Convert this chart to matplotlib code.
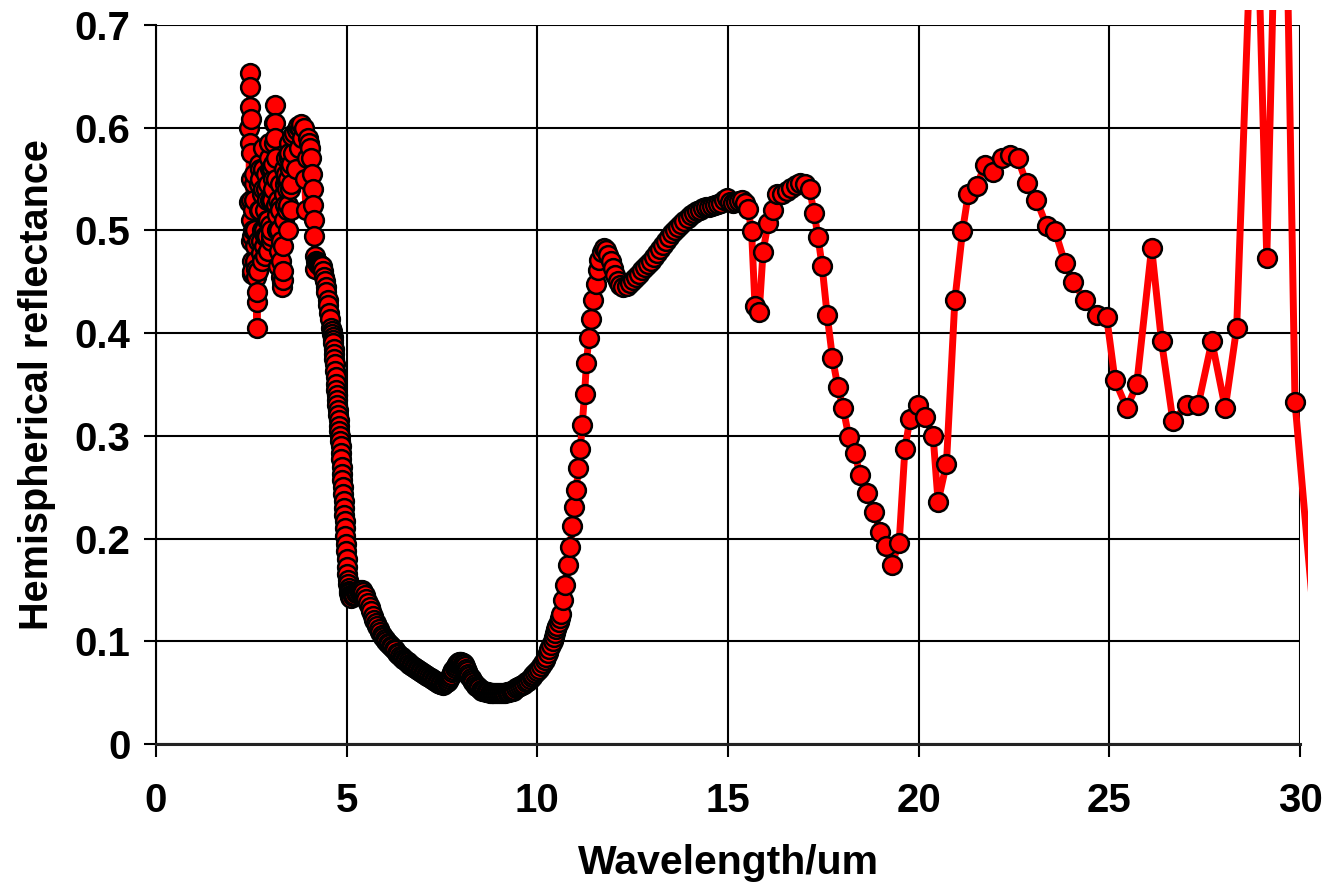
import matplotlib
matplotlib.use('Agg')
import matplotlib.pyplot as plt
from matplotlib.patches import Rectangle

# spectral hemispherical reflectance, wavelength in um
wavelength = [
    2.44, 2.45, 2.46, 2.465, 2.47, 2.475, 2.48, 2.485, 2.49, 2.495,
    2.50, 2.505, 2.51, 2.515, 2.52, 2.53, 2.54, 2.55, 2.56, 2.57,
    2.58, 2.59, 2.60, 2.61, 2.62, 2.63, 2.64, 2.65, 2.66, 2.67,
    2.68, 2.69, 2.70, 2.71, 2.72, 2.73, 2.74, 2.75, 2.76, 2.77,
    2.78, 2.79, 2.80, 2.81, 2.82, 2.83, 2.84, 2.85, 2.86, 2.87,
    2.88, 2.89, 2.90, 2.91, 2.92, 2.93, 2.94, 2.95, 2.96, 2.97,
    2.98, 2.99, 3.00, 3.01, 3.02, 3.03, 3.04, 3.05, 3.06, 3.07,
    3.08, 3.09, 3.10, 3.11, 3.12, 3.13, 3.14, 3.15, 3.16, 3.17,
    3.18, 3.19, 3.20, 3.21, 3.22, 3.23, 3.24, 3.25, 3.26, 3.27,
    3.28, 3.29, 3.30, 3.31, 3.32, 3.33, 3.34, 3.35, 3.36, 3.37,
    3.38, 3.39, 3.40, 3.41, 3.42, 3.43, 3.44, 3.45, 3.46, 3.47,
    3.48, 3.49, 3.50, 3.51, 3.52, 3.53, 3.54, 3.55, 3.57, 3.60,
    3.63, 3.66, 3.69, 3.72, 3.75, 3.78, 3.81, 3.84, 3.87, 3.90,
    3.93, 3.96, 3.99, 4.02, 4.05, 4.07, 4.09, 4.11, 4.13, 4.14,
    4.15, 4.16, 4.18, 4.20, 4.22, 4.24, 4.26, 4.28, 4.30, 4.32,
    4.35, 4.37, 4.40, 4.42, 4.45, 4.47, 4.50, 4.52, 4.55, 4.57,
    4.60, 4.61, 4.62, 4.63, 4.64, 4.65, 4.66, 4.67, 4.68, 4.69,
    4.70, 4.71, 4.72, 4.73, 4.74, 4.75, 4.76, 4.77, 4.78, 4.79,
    4.80, 4.81, 4.82, 4.83, 4.84, 4.85, 4.86, 4.87, 4.88, 4.89,
    4.90, 4.91, 4.92, 4.93, 4.94, 4.95, 4.96, 4.97, 4.98, 4.99,
    5.00, 5.01, 5.02, 5.03, 5.04, 5.05, 5.06, 5.07, 5.08, 5.10,
    5.12, 5.16, 5.20, 5.24, 5.28, 5.32, 5.36, 5.40, 5.44, 5.48,
    5.52, 5.56, 5.60, 5.64, 5.68, 5.72, 5.76, 5.80, 5.84, 5.88,
    5.92, 5.96, 6.00, 6.04, 6.08, 6.12, 6.16, 6.20, 6.24, 6.28,
    6.32, 6.36, 6.40, 6.44, 6.48, 6.52, 6.56, 6.60, 6.64, 6.68,
    6.72, 6.76, 6.80, 6.84, 6.88, 6.92, 6.96, 7.00, 7.04, 7.08,
    7.12, 7.16, 7.20, 7.24, 7.28, 7.32, 7.36, 7.40, 7.44, 7.48,
    7.52, 7.56, 7.59, 7.62, 7.65, 7.68, 7.71, 7.74, 7.77, 7.80,
    7.83, 7.86, 7.89, 7.92, 7.95, 7.98, 8.01, 8.04, 8.07, 8.10,
    8.13, 8.16, 8.19, 8.22, 8.25, 8.28, 8.32, 8.36, 8.40, 8.44,
    8.48, 8.52, 8.56, 8.60, 8.65, 8.70, 8.75, 8.80, 8.85, 8.90,
    8.95, 9.00, 9.05, 9.10, 9.15, 9.20, 9.25, 9.30, 9.35, 9.40,
    9.45, 9.50, 9.55, 9.60, 9.65, 9.70, 9.75, 9.80, 9.85, 9.90,
    9.95, 10.00, 10.05, 10.10, 10.15, 10.20, 10.24, 10.28, 10.32, 10.36,
    10.40, 10.44, 10.47, 10.50, 10.53, 10.56, 10.59, 10.62,
    10.68, 10.73, 10.80, 10.86, 10.92, 10.97, 11.02, 11.08, 11.13, 11.18,
    11.24, 11.29, 11.35, 11.41, 11.47, 11.53, 11.58, 11.63, 11.69, 11.75,
    11.80, 11.86, 11.92, 11.98, 12.04, 12.11, 12.18, 12.26, 12.34, 12.42,
    12.50, 12.58, 12.66, 12.74, 12.82, 12.90, 12.98, 13.06, 13.14, 13.22,
    13.30, 13.38, 13.46, 13.54, 13.62, 13.70, 13.78, 13.86, 13.94, 14.02,
    14.10, 14.18, 14.26, 14.34, 14.42, 14.50, 14.58, 14.66, 14.74, 14.82,
    14.90, 14.98, 15.06, 15.14, 15.22, 15.30, 15.38, 15.46, 15.53, 15.62,
    15.71, 15.82, 15.92, 16.05, 16.18, 16.28, 16.42, 16.55, 16.66, 16.78,
    16.90, 17.02, 17.14, 17.26, 17.36, 17.47, 17.60, 17.74, 17.88, 18.02,
    18.17, 18.32, 18.47, 18.64, 18.84, 18.99, 19.14, 19.29, 19.49, 19.64,
    19.77, 19.99, 20.17, 20.38, 20.51, 20.73, 20.95, 21.15, 21.30, 21.52,
    21.74, 21.96, 22.18, 22.39, 22.60, 22.83, 23.09, 23.36, 23.58, 23.84,
    24.05, 24.36, 24.67, 24.93, 25.15, 25.46, 25.72, 26.11, 26.37, 26.67,
    27.03, 27.33, 27.69, 28.04, 28.34, 28.82, 29.13, 29.52, 29.87, 30.60,
]
reflectance = [
    0.528, 0.600, 0.653, 0.640, 0.620, 0.585, 0.608, 0.550, 0.575, 0.510,
    0.530, 0.490, 0.470, 0.495, 0.458, 0.460, 0.500, 0.520, 0.545, 0.555,
    0.530, 0.500, 0.485, 0.470, 0.462, 0.455, 0.430, 0.405, 0.440, 0.460,
    0.490, 0.520, 0.545, 0.565, 0.560, 0.550, 0.520, 0.490, 0.478, 0.470,
    0.500, 0.535, 0.560, 0.580, 0.540, 0.500, 0.485, 0.475, 0.495, 0.520,
    0.540, 0.555, 0.530, 0.510, 0.495, 0.480, 0.510, 0.545, 0.570, 0.585,
    0.560, 0.530, 0.505, 0.490, 0.495, 0.500, 0.530, 0.560, 0.550, 0.540,
    0.565, 0.585, 0.605, 0.622, 0.605, 0.590, 0.570, 0.550, 0.525, 0.500,
    0.515, 0.530, 0.500, 0.465, 0.480, 0.500, 0.525, 0.545, 0.520, 0.490,
    0.470, 0.455, 0.450, 0.445, 0.452, 0.460, 0.485, 0.510, 0.535, 0.560,
    0.545, 0.525, 0.550, 0.570, 0.555, 0.540, 0.520, 0.500, 0.525, 0.550,
    0.570, 0.585, 0.575, 0.560, 0.540, 0.520, 0.545, 0.565, 0.592, 0.575,
    0.595, 0.560, 0.598, 0.602, 0.580, 0.600, 0.604, 0.590, 0.600, 0.550,
    0.520, 0.570, 0.590, 0.585, 0.580, 0.570, 0.555, 0.540, 0.525, 0.510,
    0.495, 0.475, 0.462, 0.470, 0.469, 0.468, 0.467, 0.466, 0.466, 0.465,
    0.465, 0.460, 0.455, 0.451, 0.445, 0.440, 0.432, 0.427, 0.420, 0.414,
    0.405, 0.402, 0.399, 0.396, 0.393, 0.390, 0.385, 0.380, 0.375, 0.370,
    0.363, 0.357, 0.350, 0.345, 0.340, 0.335, 0.330, 0.325, 0.320, 0.315,
    0.310, 0.305, 0.300, 0.295, 0.290, 0.283, 0.277, 0.270, 0.263, 0.257,
    0.250, 0.243, 0.237, 0.230, 0.223, 0.217, 0.210, 0.202, 0.195, 0.188,
    0.180, 0.172, 0.165, 0.160, 0.156, 0.152, 0.149, 0.147, 0.145, 0.143,
    0.142, 0.144, 0.145, 0.147, 0.148, 0.149, 0.150, 0.150, 0.148, 0.145,
    0.141, 0.137, 0.133, 0.129, 0.125, 0.121, 0.118, 0.115, 0.112, 0.109,
    0.106, 0.104, 0.102, 0.100, 0.098, 0.097, 0.095, 0.094, 0.092, 0.091,
    0.089, 0.088, 0.086, 0.085, 0.083, 0.082, 0.081, 0.080, 0.078, 0.077,
    0.076, 0.075, 0.074, 0.073, 0.072, 0.071, 0.070, 0.069, 0.068, 0.067,
    0.066, 0.065, 0.064, 0.063, 0.062, 0.061, 0.060, 0.059, 0.058, 0.058,
    0.057, 0.058, 0.059, 0.060, 0.061, 0.063, 0.065, 0.067, 0.070, 0.072,
    0.074, 0.076, 0.078, 0.079, 0.080, 0.080, 0.080, 0.079, 0.078, 0.076,
    0.073, 0.071, 0.068, 0.066, 0.064, 0.062, 0.060, 0.058, 0.056, 0.055,
    0.054, 0.053, 0.052, 0.052, 0.051, 0.051, 0.050, 0.050, 0.050, 0.050,
    0.050, 0.050, 0.050, 0.050, 0.050, 0.051, 0.051, 0.052, 0.052, 0.053,
    0.054, 0.055, 0.056, 0.057, 0.058, 0.060, 0.061, 0.063, 0.065, 0.067,
    0.069, 0.071, 0.073, 0.076, 0.079, 0.082, 0.085, 0.089, 0.092, 0.096,
    0.100, 0.104, 0.108, 0.112, 0.115, 0.119, 0.123, 0.127,
    0.140, 0.155, 0.174, 0.192, 0.212, 0.231, 0.247, 0.269, 0.287, 0.311,
    0.341, 0.371, 0.395, 0.414, 0.432, 0.448, 0.461, 0.471, 0.479, 0.483,
    0.481, 0.476, 0.470, 0.463, 0.457, 0.451, 0.447, 0.445, 0.446, 0.449,
    0.452, 0.455, 0.458, 0.461, 0.464, 0.467, 0.470, 0.474, 0.478, 0.482,
    0.486, 0.490, 0.494, 0.497, 0.500, 0.503, 0.506, 0.509, 0.512, 0.515,
    0.517, 0.519, 0.520, 0.522, 0.523, 0.523, 0.524, 0.525, 0.526, 0.527,
    0.530, 0.532, 0.528, 0.527, 0.528, 0.529, 0.530, 0.527, 0.521, 0.499,
    0.426, 0.421, 0.479, 0.507, 0.520, 0.535, 0.535, 0.538, 0.541, 0.544,
    0.546, 0.545, 0.540, 0.517, 0.494, 0.465, 0.418, 0.376, 0.348, 0.327,
    0.299, 0.283, 0.262, 0.244, 0.226, 0.206, 0.193, 0.174, 0.196, 0.287,
    0.316, 0.330, 0.318, 0.300, 0.236, 0.273, 0.432, 0.499, 0.535, 0.543,
    0.564, 0.557, 0.570, 0.573, 0.570, 0.546, 0.530, 0.504, 0.499, 0.468,
    0.450, 0.432, 0.418, 0.416, 0.354, 0.327, 0.350, 0.483, 0.392, 0.314,
    0.330, 0.330, 0.392, 0.327, 0.405, 0.900, 0.473, 1.080, 0.333, 0.020,
]

x_ticks = [0, 5, 10, 15, 20, 25, 30]
y_ticks = [0, 0.1, 0.2, 0.3, 0.4, 0.5, 0.6, 0.7]
y_tick_labels = ['0', '0.1', '0.2', '0.3', '0.4', '0.5', '0.6', '0.7']

plt.rcParams['font.family'] = ['Liberation Sans', 'DejaVu Sans']
plt.rcParams['font.weight'] = 'bold'

fig = plt.figure(figsize=(13.25, 8.88), dpi=100)
ax = fig.add_axes([0.1177, 0.1622, 0.8634, 0.8097])

line, = ax.plot(wavelength, reflectance, color='#ff0000', lw=5,
                marker='o', ms=13.5, mfc='#ff0000', mec='black', mew=1.8,
                zorder=3)
# plot area is a little larger than the axis range
clip = Rectangle((-0.02, -0.03), 1.027, 1.0509, transform=ax.transAxes)
line.set_clip_path(clip)

ax.set_xlim(0, 30)
ax.set_ylim(0, 0.7)
ax.set_xticks(x_ticks)
ax.set_yticks(y_ticks)
ax.set_yticklabels(y_tick_labels)
ax.grid(True, color='black', lw=1.5)
ax.set_axisbelow(True)

for side in ['top', 'right']:
    ax.spines[side].set_visible(False)
ax.spines['left'].set_linewidth(1.5)
ax.spines['bottom'].set_linewidth(2.2)
ax.spines['bottom'].set_color('#222222')

ax.tick_params(axis='x', direction='out', length=9.5, width=1.5, pad=18,
               labelsize=29)
ax.tick_params(axis='y', direction='out', length=8.5, width=1.5, pad=10,
               labelsize=29)

ax.set_xlabel('Wavelength/um', fontsize=29.5, fontweight='bold', labelpad=17)
ax.set_ylabel('Hemispherical reflectance', fontsize=28.5, fontweight='bold',
              labelpad=13)

fig.savefig('out.png', dpi=100)
